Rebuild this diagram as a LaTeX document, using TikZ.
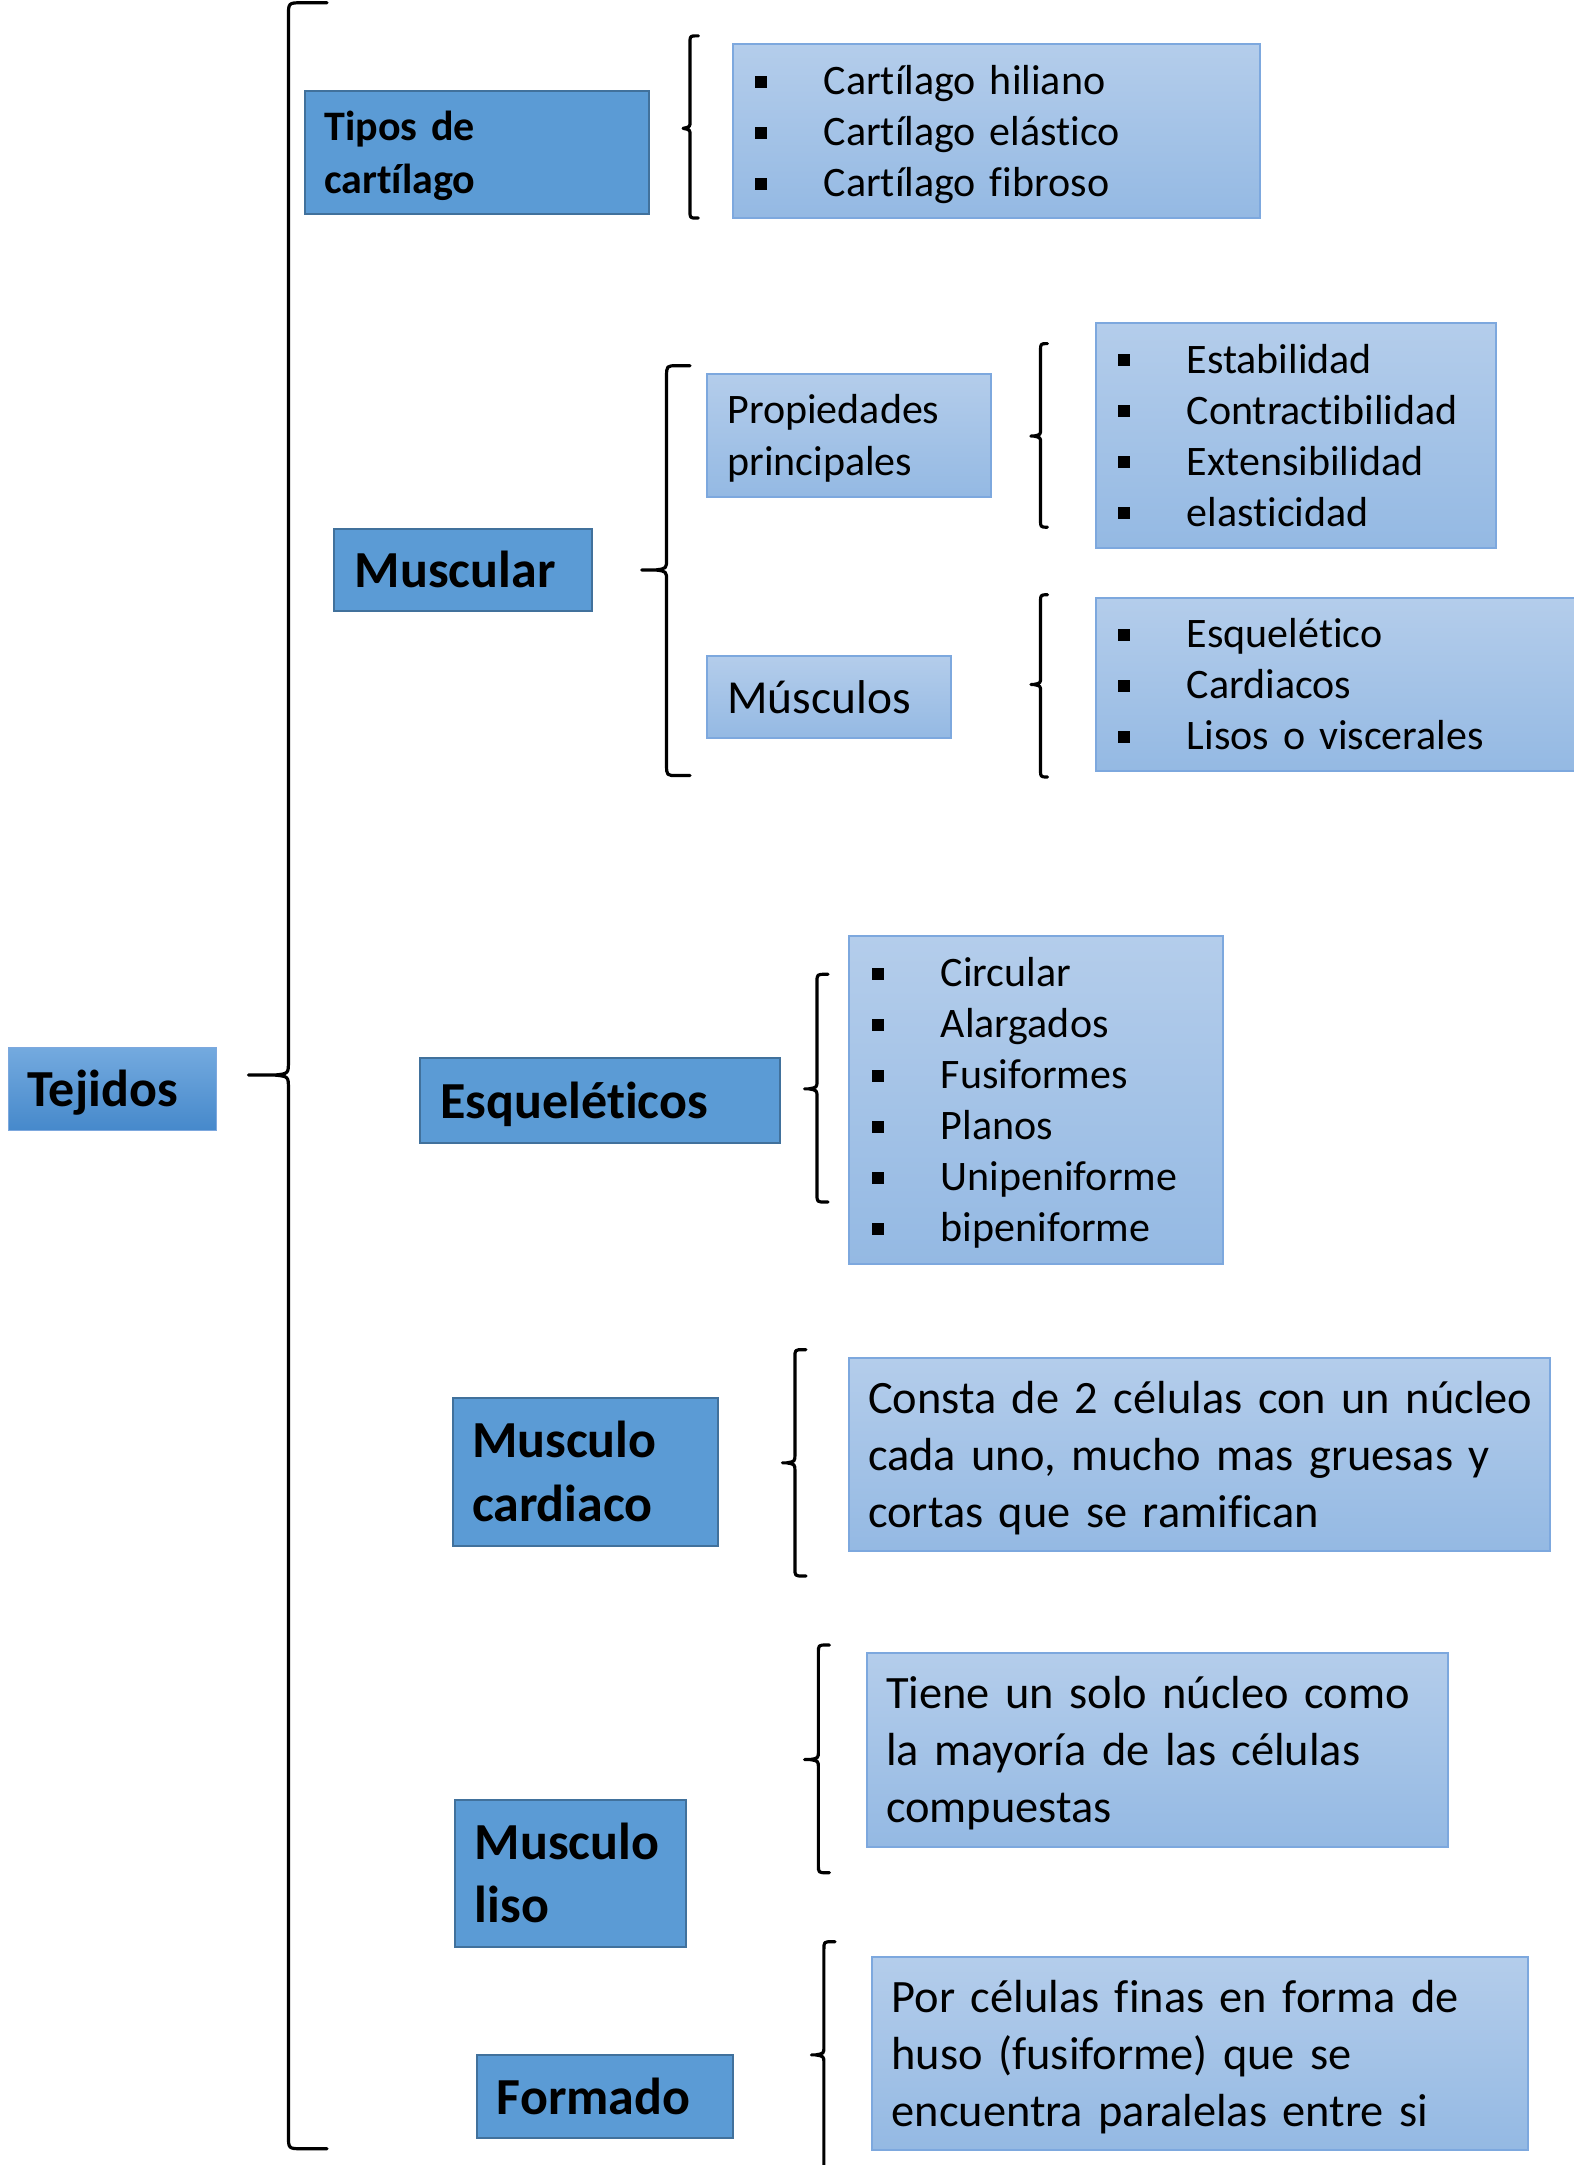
\documentclass[tikz,border=0pt]{standalone}
\usepackage{fontspec}
\setmainfont{Carlito}[Ligatures=NoCommon]
\definecolor{dkfill}{RGB}{91,155,213}
\definecolor{dkline}{RGB}{65,113,156}
\definecolor{tjtop}{RGB}{116,170,223}
\definecolor{tjbot}{RGB}{70,137,203}
\definecolor{lttop}{RGB}{180,205,235}
\definecolor{ltbot}{RGB}{148,185,227}
\definecolor{ltline}{RGB}{125,168,222}
\newcommand\blt{\makebox[34.5pt][l]{\rule[3.4pt]{6pt}{6pt}}}
\newcommand\wstrut{\rule[-0.265em]{0pt}{1.215em}}
\newcommand\tbrace[7]{% x, top, mid, bot, tip, hook, r
  \draw[bracestyle] (#6,#2) -- (#1+#7,#2) .. controls (#1,#2) .. (#1,#2+#7)
    -- (#1,#3-#7) .. controls (#1,#3-1) .. (#1-#7,#3) -- (#5,#3)
    -- (#1-#7,#3) .. controls (#1,#3+1) .. (#1,#3+#7)
    -- (#1,#4-#7) .. controls (#1,#4) .. (#1+#7,#4) -- (#6,#4);}
\tikzset{
  bracestyle/.style={line width=1.6pt, line cap=round, line join=round},
  boxbase/.style={rectangle, align=left, inner ysep=0pt,
    execute at begin node=\wstrut, execute at end node=\wstrut},
  dkbox/.style={boxbase, draw=dkline, line width=1pt, fill=dkfill,
    font=\bfseries\fontsize{26}{31.7}\selectfont},
  tjbox/.style={boxbase, draw=ltline, line width=0.6pt, top color=tjtop, bottom color=tjbot,
    font=\bfseries\fontsize{26}{31.7}\selectfont},
  ltbox/.style={boxbase, draw=ltline, line width=1pt, top color=lttop, bottom color=ltbot,
    font=\fontsize{21}{25.5}\selectfont},
  partext/.style={font=\fontsize{23.2}{28.6}\selectfont},
}
\begin{document}
\begin{tikzpicture}[x=0.69pt,y=-0.69pt]
\useasboundingbox (0,0) rectangle (1139.9,1568.8);

% level 1
\node[tjbox, minimum width=104.2pt, minimum height=41.4pt, inner xsep=9.7pt, text width=84.8pt] (tej) at (81.5,789) {Tejidos};

% Tipos de cartilago
\node[dkbox, minimum width=171.8pt, minimum height=61.4pt, inner xsep=9.7pt, text width=152.4pt,
  font=\bfseries\fontsize{21}{25.5}\selectfont] (tipos) at (345.5,110.5) {Tipos de\\cartílago};
\node[ltbox, minimum width=263.6pt, minimum height=86.9pt, inner xsep=11pt, text width=241.6pt] (list1) at (722,95)
  {\blt Cartílago hiliano\\\blt Cartílago elástico\\\blt Cartílago fibroso};

% Muscular
\node[dkbox, minimum width=129pt, minimum height=41.4pt, inner xsep=10.4pt, text width=108.2pt] (musc) at (335.5,413) {Muscular};
\node[ltbox, minimum width=142.1pt, minimum height=61.4pt, inner xsep=10.4pt, text width=121.3pt,
  font=\fontsize{21}{26.2}\selectfont] (prop) at (615,315.5) {Propiedades\\principales};
\node[ltbox, minimum width=200.1pt, minimum height=112.5pt, inner xsep=11pt, text width=178.1pt] (list2) at (939,315.5)
  {\blt Estabilidad\\\blt Contractibilidad\\\blt Extensibilidad\\\blt elasticidad};
\node[ltbox, minimum width=122.1pt, minimum height=41.4pt, inner xsep=10.4pt, text width=101.3pt,
  font=\fontsize{23.7}{28.6}\selectfont] (muscs) at (600.5,505) {Músculos};
\node[ltbox, minimum width=240.1pt, minimum height=86.9pt, inner xsep=11pt, text width=218.1pt] (list3) at (968,496)
  {\blt Esquelético\\\blt Cardiacos\\\blt Lisos o viscerales};

% Esqueleticos
\node[dkbox, minimum width=180.1pt, minimum height=42.1pt, inner xsep=10.4pt, text width=159.3pt] (esq) at (434.5,797.5) {Esqueléticos};
\node[ltbox, minimum width=187pt, minimum height=164.2pt, inner xsep=11.5pt, text width=164pt] (list4) at (750.5,797)
  {\blt Circular\\\blt Alargados\\\blt Fusiformes\\\blt Planos\\\blt Unipeniforme\\\blt bipeniforme};

% Musculo cardiaco
\node[dkbox, minimum width=132.5pt, minimum height=73.8pt, inner xsep=9.7pt, text width=113.1pt] (card) at (424,1066.5) {Musculo\\cardiaco};
\node[ltbox, partext, minimum width=350.5pt, minimum height=96.6pt, inner xsep=9.7pt, text width=331.1pt] (t5) at (869,1054)
  {\mbox{Consta de 2 células con un núcleo}\\\mbox{cada uno, mucho mas gruesas y}\\\mbox{cortas que se ramifican}};

% Musculo liso
\node[dkbox, minimum width=115.2pt, minimum height=73.8pt, inner xsep=9.7pt, text width=95.8pt] (liso) at (413.5,1357.5) {Musculo\\liso};
\node[ltbox, partext, minimum width=290.5pt, minimum height=96.6pt, inner xsep=9.7pt, text width=271.1pt] (t6) at (838.5,1268)
  {\mbox{Tiene un solo núcleo como}\\\mbox{la mayoría de las células}\\\mbox{compuestas}};

% Formado
\node[dkbox, minimum width=127.7pt, minimum height=41.4pt, inner xsep=9.7pt, text width=108.3pt] (form) at (438.5,1519) {Formado};
\node[ltbox, partext, minimum width=327.8pt, minimum height=96.6pt, inner xsep=9.7pt, text width=308.4pt] (t7) at (869.5,1488)
  {\mbox{Por células finas en forma de}\\\mbox{huso (fusiforme) que se}\\\mbox{encuentra paralelas entre si}};

% braces
\tbrace{209}{2}{779}{1557}{180}{237}{10}
\tbrace{500}{26}{93}{158}{495}{506}{5}
\tbrace{483}{265}{413}{562}{465}{500}{8}
\tbrace{754}{249}{316}{382}{747}{759}{5}
\tbrace{754}{431}{496}{563}{747}{759}{5}
\tbrace{592}{706}{789}{871}{583}{600}{6}
\tbrace{576}{978}{1060}{1142}{567}{584}{6}
\tbrace{593}{1192}{1275}{1357}{583}{601}{6}
\tbrace{597}{1407}{1489}{1590}{588}{605}{6}
\end{tikzpicture}
\end{document}
